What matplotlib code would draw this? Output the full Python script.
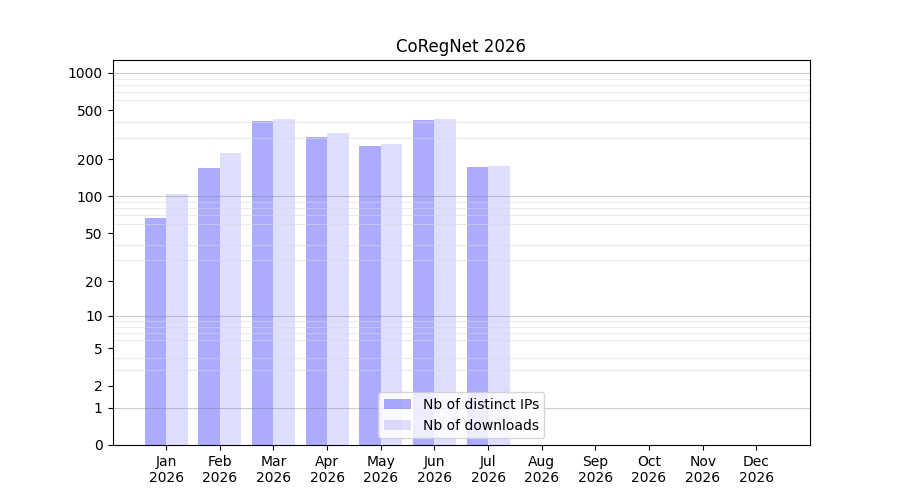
import matplotlib
matplotlib.use('Agg')
import matplotlib.pyplot as plt
import numpy as np

months = ['Jan', 'Feb', 'Mar', 'Apr', 'May', 'Jun', 'Jul', 'Aug', 'Sep', 'Oct', 'Nov', 'Dec']
year = 2026
distinct_ips = [67, 170, 410, 304, 257, 417, 174]
downloads = [105, 225, 425, 327, 267, 425, 177]
ytick_vals = [0, 1, 2, 5, 10, 20, 50, 100, 200, 500, 1000]


def fwd(y):
    return np.log10(1 + np.clip(y, 0, None))


def inv(y):
    return 10 ** y - 1


fig, ax = plt.subplots(figsize=(9, 5), dpi=100)

x = np.arange(len(distinct_ips))
width = 0.4
ax.bar(x, distinct_ips, width=-width, align='edge', color='blue', alpha=0.33,
       label='Nb of distinct IPs')
ax.bar(x, downloads, width=width, align='edge', color='blue', alpha=0.13,
       label='Nb of downloads')

ax.set_yscale('function', functions=(fwd, inv))
ax.set_ylim(0, 1270)
ax.set_yticks(ytick_vals)
ax.set_yticklabels([str(v) for v in ytick_vals])

minor = [m * 10 ** k for k in range(4) for m in range(1, 10) if m * 10 ** k <= 1270]
ax.set_yticks(minor, minor=True)
ax.tick_params(axis='y', which='minor', length=0)
ax.grid(axis='y', which='minor', color='0.85', alpha=0.5, linewidth=0.8)
for d in [1, 10, 100, 1000]:
    ax.axhline(d, color='0.5', alpha=0.4, linewidth=0.8)

ax.set_xticks(np.arange(len(months)))
ax.set_xticklabels([f'{m}\n{year}' for m in months])
ax.set_xlim(-1, 12)

ax.set_title(f'CoRegNet {year}')
ax.legend(loc='lower center')

plt.savefig('out.png')
